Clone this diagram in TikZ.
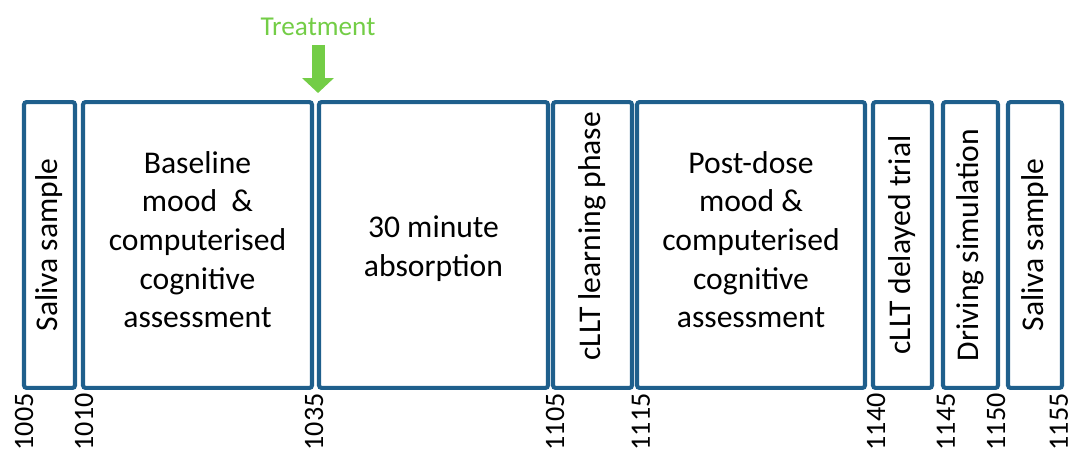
\documentclass[tikz,border=0pt]{standalone}
\usepackage{fontspec}
\setmainfont{Carlito}
\usetikzlibrary{arrows.meta}
\definecolor{stageblue}{RGB}{31,95,140}
\definecolor{treatgreen}{RGB}{115,205,70}
\tikzset{
  stage/.style={draw=stageblue, line width=2.3pt, rounded corners=1.5pt, minimum height=5.72cm, inner sep=0pt},
  stagetext/.style={font=\fontsize{18}{22}\selectfont, align=center},
  tick/.style={rotate=90, anchor=east, font=\fontsize{16}{18}\selectfont, inner sep=0pt},
}
\begin{document}
\begin{tikzpicture}[x=0.02cm, y=-0.02cm]
\useasboundingbox (0,0) rectangle (1075,450);
% stage boxes: left edge / right edge / name
\foreach \l/\r/\n in {24/75/sal1, 83/312/base, 319/548/abs, 553/632/lrn, 637/865/post, 873/932/del, 943/998/drv, 1008/1062/sal2}
  \node[stage, minimum width={(\r-\l)*0.02cm}] (\n) at ({(\l+\r)/2},245) {};
\node[stagetext, rotate=90] (sal1t) at (sal1) {Saliva sample};
\node[stagetext] (baset) at ([yshift=3pt]base) {Baseline\\mood~~\&\\computerised\\cognitive\\assessment};
\node[stagetext] (abst) at ([yshift=-2pt]abs) {30 minute\\absorption};
\node[stagetext, rotate=90] (lrnt) at ([yshift=5pt]lrn) {cLLT learning phase};
\node[stagetext] (postt) at ([yshift=3pt]post) {Post-dose\\mood \&\\computerised\\cognitive\\assessment};
\node[stagetext, rotate=90] (delt) at (del) {cLLT delayed trial};
\node[stagetext, rotate=90] (drvt) at (drv) {Driving simulation};
\node[stagetext, rotate=90] (sal2t) at (sal2) {Saliva sample};
% time stamps
\foreach \x/\t in {24/1005, 84/1010, 314/1035, 555/1105, 641/1115, 876/1140, 946/1145, 996/1150, 1059/1155}
  \node[tick] (t\t) at (\x,393) {\t};
% treatment
\node[font=\fontsize{15.5}{17}\selectfont, text=treatgreen, inner sep=0pt] (treat) at (318,27) {Treatment};
\coordinate (drop) at (318,93);
\draw[treatgreen, line width=7.4pt, -{Triangle[length=8.5pt, width=17.6pt]}, shorten <=5pt] (treat.south) -- (drop);
\end{tikzpicture}
\end{document}
